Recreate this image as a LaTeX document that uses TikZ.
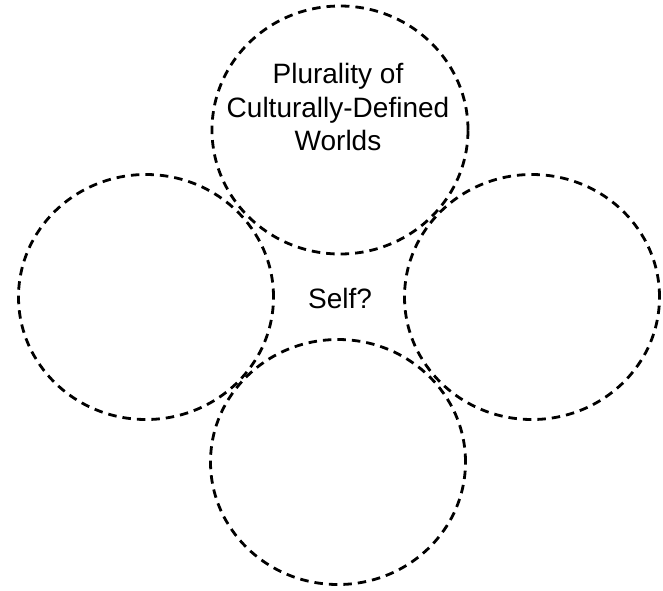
\documentclass[tikz,border=0pt]{standalone}
\usepackage{fontspec}
\setmainfont{Liberation Sans}
\usetikzlibrary{shapes.geometric, positioning}
\tikzset{
  world/.style={ellipse, draw=black, line width=2.8pt, dash pattern=on 8.5pt off 6pt, minimum width=255pt, minimum height=245pt, inner sep=0pt}, % the dashed circles
  caption/.style={align=center, font=\fontsize{28}{33.5}\selectfont}
}

\begin{document}
\begin{tikzpicture}[x=1pt, y=-1pt]
  \useasboundingbox (0,0) rectangle (663,590);
  \node[world, minimum width=256pt, minimum height=248pt] (top) at (340,130) {};
  \node[world] (left) at (146,297) {};
  \node[world] (right) at (532,297) {};
  \node[world] (bottom) at (338,462) {};

  \node[caption] (plural) at (338,107) {Plurality of\\Culturally-Defined\\Worlds};
  \node[caption] (self) at (340,298) {Self?};
\end{tikzpicture}
\end{document}
